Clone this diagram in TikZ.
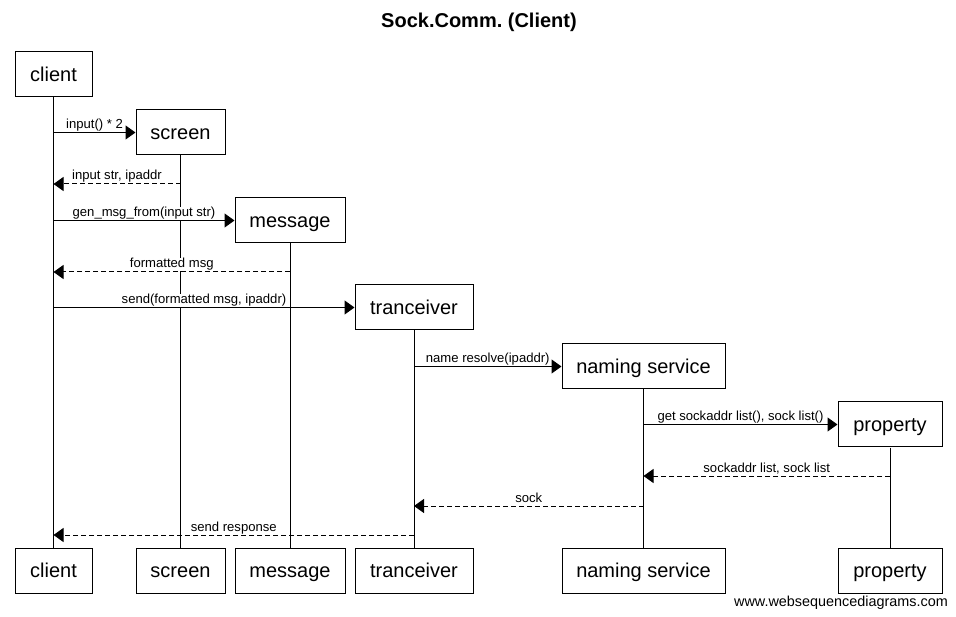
\documentclass[tikz,border=0pt]{standalone}
\usepackage{fontspec}
\setmainfont{Liberation Sans}
\usetikzlibrary{arrows.meta}
\frenchspacing
\begin{document}
\begin{tikzpicture}[x=1pt,y=-1pt,
  part/.style={draw,line width=1pt,minimum height=45pt,inner sep=0pt,text height=14.3pt,text depth=0pt,font=\fontsize{20}{24}\selectfont},
  life/.style={line width=1pt},
  call/.style={line width=1pt,-{Triangle[length=10pt,width=14pt]}},
  ret/.style={call,dash pattern=on 5pt off 3pt},
  lbl/.style={fill=white,inner sep=0.3pt,anchor=base,yshift=4pt,font=\fontsize{13.1}{15}\selectfont}]
\useasboundingbox (0,0) rectangle (956,617);
\node[font=\bfseries\fontsize{20}{24}\selectfont] (title) at (479,22) {Sock.Comm. (Client)};
% top participants
\node[part,minimum width=77pt]  (ct) at (53.5,74.5)  {client};
\node[part,minimum width=89pt]  (st) at (180.5,132.5) {screen};
\node[part,minimum width=110pt] (mt) at (290,220.5)  {message};
\node[part,minimum width=118pt] (tt) at (414,307.5)  {tranceiver};
\node[part,minimum width=163pt] (nt) at (643.5,366.5) {naming service};
\node[part,minimum width=104pt] (pt) at (890,424.5)  {property};
% bottom participants
\node[part,minimum width=77pt]  (cb) at (53.5,570.5)  {client};
\node[part,minimum width=89pt]  (sb) at (180.5,570.5) {screen};
\node[part,minimum width=110pt] (mb) at (290,570.5)   {message};
\node[part,minimum width=118pt] (tb) at (414,570.5)   {tranceiver};
\node[part,minimum width=163pt] (nb) at (643.5,570.5) {naming service};
\node[part,minimum width=104pt] (pb) at (890,570.5)   {property};
% lifelines
\draw[life] (ct.south) -- (cb.north);
\draw[life] (st.south) -- (sb.north);
\draw[life] (mt.south) -- (mb.north);
\draw[life] (tt.south) -- (tb.north);
\draw[life] (nt.south) -- (nb.north);
\draw[life] (pt.south) -- (pb.north);
% messages
\coordinate (y1) at (0,184);
\coordinate (y2) at (0,272);
\coordinate (y3) at (0,476);
\coordinate (y4) at (0,506);
\coordinate (y5) at (0,535);
\draw[call] (ct.south |- st.west) -- node[lbl]{input() * 2} (st.west);
\draw[ret] (st.south |- y1) -- node[lbl]{input str, ipaddr} (ct.south |- y1);
\draw[call] (ct.south |- mt.west) -- node[lbl]{gen\_msg\_from(input str)} (mt.west);
\draw[ret] (mt.south |- y2) -- node[lbl]{formatted msg} (ct.south |- y2);
\draw[call] (ct.south |- tt.west) -- node[lbl]{send(formatted msg, ipaddr)} (tt.west);
\draw[call] (tt.south |- nt.west) -- node[lbl]{name resolve(ipaddr)} (nt.west);
\draw[call] (nt.south |- pt.west) -- node[lbl]{get sockaddr list(), sock list()} (pt.west);
\draw[ret] (pt.south |- y3) -- node[lbl]{sockaddr list, sock list} (nt.south |- y3);
\draw[ret] (nt.south |- y4) -- node[lbl]{sock} (tt.south |- y4);
\draw[ret] (tt.south |- y5) -- node[lbl]{send response} (ct.south |- y5);
\node[font=\fontsize{14.4}{16}\selectfont] (wm) at (841,603) {www.websequencediagrams.com};
\end{tikzpicture}
\end{document}
